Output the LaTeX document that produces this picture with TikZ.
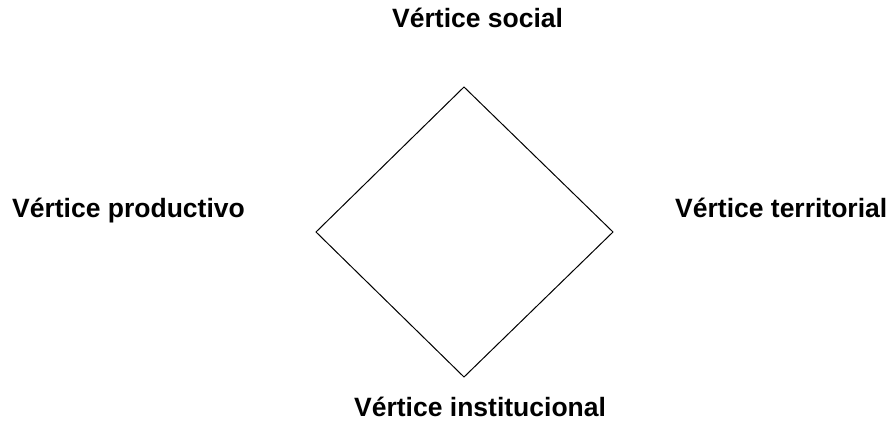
\documentclass[tikz,border=0pt]{standalone}
\usepackage{fontspec}
\setmainfont{Liberation Sans}
\begin{document}
\begin{tikzpicture}[x=1pt,y=-1pt,
  lbl/.style={font=\fontsize{26.5}{30}\selectfont\bfseries, inner sep=0pt},
  edge/.style={draw=black, line width=1pt, line join=miter}]
\useasboundingbox (0,0) rectangle (890,427);
\coordinate (T) at (464,87);
\coordinate (R) at (613,232);
\coordinate (B) at (464,377);
\coordinate (L) at (316,232);
\draw[edge] (T) -- (R) -- (B) -- (L) -- cycle;
\node[lbl, anchor=base west] (social) at (392,28) {Vértice social};
\node[lbl, anchor=base west] (prod) at (12,218) {Vértice productivo};
\node[lbl, anchor=base west] (terr) at (675,218) {Vértice territorial};
\node[lbl, anchor=base west] (inst) at (354,416) {Vértice institucional};
\end{tikzpicture}
\end{document}
